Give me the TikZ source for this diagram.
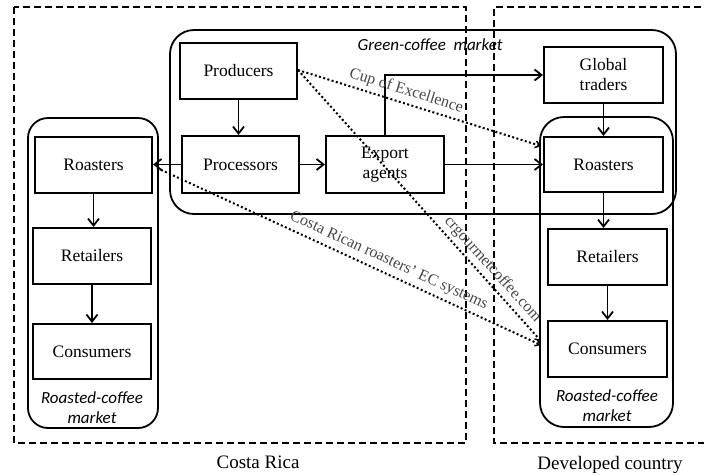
\documentclass[tikz,border=0pt]{standalone}
\usepackage{fontspec}
\setmainfont{Liberation Serif}
\newfontfamily\calib{Carlito}
\usetikzlibrary{arrows.meta,calc}
\begin{document}
\begin{tikzpicture}[x=1pt,y=-1pt,
  box/.style={draw,line width=2pt,inner sep=0pt,align=center,font=\fontsize{17.5}{20}\selectfont},
  market/.style={draw,line width=1.8pt,rounded corners=24pt,inner sep=0pt},
  mlabel/.style={font=\calib\itshape\fontsize{17}{20}\selectfont,align=center,inner sep=0pt},
  region/.style={line width=2.4pt,dash pattern=on 7pt off 4pt},
  flow/.style={line width=1.8pt,-{Straight Barb[length=7pt,width=11pt,line width=1.8pt]}},
  ec/.style={line width=2pt,dash pattern=on 2pt off 2.4pt,-{Straight Barb[length=4.5pt,width=7pt,line width=1.5pt]}},
  eclabel/.style={text=black!72,font=\fontsize{16}{16}\selectfont,sloped,inner sep=0pt}
]
\useasboundingbox (0,0) rectangle (704,475);
% country regions
\draw[region] (14,7) rectangle (466,443);
\draw[region] (712,7) -- (494,7) -- (494,443) -- (712,443);
\node[font=\fontsize{19}{20}\selectfont] (cr) at (258,462) {Costa Rica};
\node[font=\fontsize{19}{20}\selectfont] (dc) at (610,465) {Developed country};
% markets
\node[market,minimum width=506pt,minimum height=184pt] (green) at (423,122) {};
\node[market,minimum width=133pt,minimum height=310pt] (mktR) at (606.5,272) {};
\node[market,minimum width=130pt,minimum height=310pt,rounded corners=20pt] (mktL) at (93,273) {};
\node[mlabel] (greenlab) at (430,45) {Green-coffee\ \ market};
\node[mlabel] (mlabL) at (92,408) {Roasted-coffee\\market};
\node[mlabel] (mlabR) at (607,406) {Roasted-coffee\\market};
% boxes
\node[box,minimum width=117pt,minimum height=56pt] (prod) at (238.5,71) {Producers};
\node[box,minimum width=117pt,minimum height=57pt] (proc) at (240.5,164.5) {Processors};
\node[box,minimum width=118pt,minimum height=57pt] (exp) at (385,164.5) {Export\\agents};
\node[box,minimum width=119pt,minimum height=56pt] (glob) at (603.5,75) {Global\\traders};
\node[box,minimum width=119pt,minimum height=55pt] (roastR) at (603.5,164.5) {Roasters};
\node[box,minimum width=119pt,minimum height=56pt] (retR) at (607.5,257) {Retailers};
\node[box,minimum width=119pt,minimum height=56pt] (consR) at (607.5,349) {Consumers};
\node[box,minimum width=117pt,minimum height=56pt] (roastL) at (93.5,165) {Roasters};
\node[box,minimum width=118pt,minimum height=56pt] (retL) at (92,256) {Retailers};
\node[box,minimum width=118pt,minimum height=55pt] (consL) at (92,351.5) {Consumers};
% solid flows
\draw[flow] (prod.south) -- (prod.south |- proc.north);
\draw[flow] (proc.east) -- (exp.west);
\draw[flow] (proc.west) -- (proc.west -| roastL.east);
\draw[flow] (exp.east) -- (exp.east -| roastR.west);
\draw[flow] (exp.north) |- (glob.west);
\draw[flow] (glob.south) -- (roastR.north);
\draw[flow] (roastR.south) -- (roastR.south |- retR.north);
\draw[flow] (retR.south) -- (consR.north);
\draw[flow] (roastL.south) -- (roastL.south |- retL.north);
\draw[flow] (retL.south) -- (retL.south |- consL.north);
% e-commerce (dotted) channels
\coordinate (pstart) at ($(prod.east)+(0,-1)$);
\coordinate (cupend) at (541,146);
\coordinate (crgend) at (541,341);
\coordinate (lstart) at (157,168);
\coordinate (ecend) at (541,345);
\draw[ec] (pstart) -- node[eclabel,pos=0.43,above=4pt] {Cup of Excellence} (cupend);
\draw[ec] (pstart) -- node[eclabel,pos=0.765,above=3.5pt] {crgourmetcoffee.com} (crgend);
\draw[ec] (lstart) -- node[eclabel,pos=0.59,above=4.5pt] {Costa Rican roasters' EC systems} (ecend);
\end{tikzpicture}
\end{document}
